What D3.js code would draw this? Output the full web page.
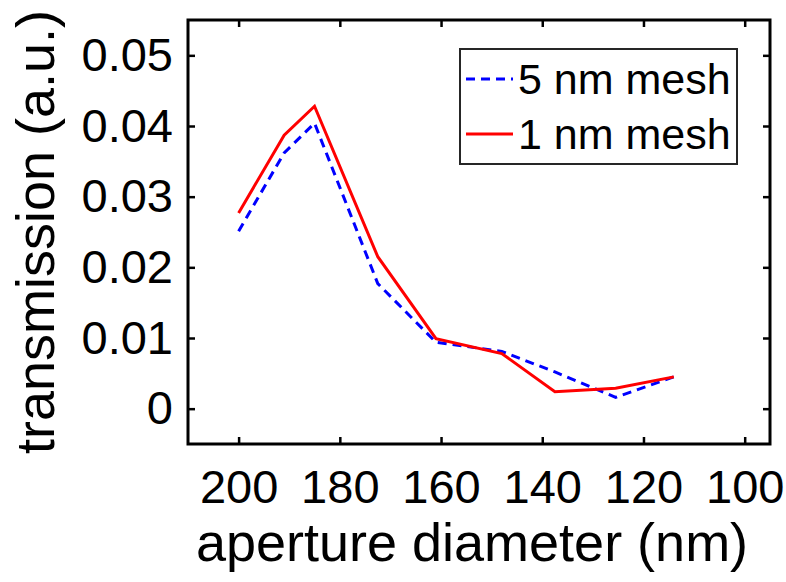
<!DOCTYPE html>
<html>
<head>
<meta charset="utf-8">
<script src="https://cdn.jsdelivr.net/npm/d3@7"></script>
<style>
  body { margin: 0; background: #fff; }
  text { font-family: "Liberation Sans", Arial, sans-serif; fill: #000; }
</style>
</head>
<body>
<script>
// values
var diameters = [200, 191, 185, 172.5, 161, 148, 137.5, 125.5, 114];
var mesh5 = [0.0251, 0.0362, 0.0404, 0.0177, 0.0094, 0.0081, 0.0052, 0.0016, 0.0045];
var mesh1 = [0.0277, 0.0387, 0.0428, 0.0215, 0.0099, 0.0078, 0.0024, 0.0029, 0.0045];
var xTicks = [200, 180, 160, 140, 120, 100];
var yTicks = [0, 0.01, 0.02, 0.03, 0.04, 0.05];
var seriesNames = ["5 nm mesh", "1 nm mesh"];

var width = 786, height = 582;
var margin = {top: 20, right: 16, bottom: 138, left: 188};
var w = width - margin.left - margin.right,
    h = height - margin.top - margin.bottom;

var svg = d3.select("body").append("svg")
    .attr("width", width)
    .attr("height", height);

var g = svg.append("g")
    .attr("transform", "translate(" + margin.left + "," + margin.top + ")");

var x = d3.scaleLinear().domain([210, 95]).range([0, w]);
var y = d3.scaleLinear().domain([-0.005, 0.055]).range([h, 0]);

var tickLen = 7;
var tickFmt = function(d) { return d === 0 ? "0" : d3.format(".2f")(d); };

// bottom and left axes with labels, ticks pointing inward
var xAxis = g.append("g")
    .attr("transform", "translate(0," + h + ")")
    .call(d3.axisBottom(x).tickValues(xTicks).tickSizeInner(-tickLen).tickSizeOuter(0).tickPadding(26));
var yAxis = g.append("g")
    .call(d3.axisLeft(y).tickValues(yTicks).tickFormat(tickFmt).tickSizeInner(-tickLen).tickSizeOuter(0).tickPadding(15));
// top and right ticks only
var xTop = g.append("g")
    .call(d3.axisTop(x).tickValues(xTicks).tickSizeInner(-tickLen).tickSizeOuter(0).tickFormat(""));
var yRight = g.append("g")
    .attr("transform", "translate(" + w + ",0)")
    .call(d3.axisRight(y).tickValues(yTicks).tickSizeInner(-tickLen).tickSizeOuter(0).tickFormat(""));

[xAxis, yAxis, xTop, yRight].forEach(function(a) {
  a.select(".domain").remove();
  a.selectAll(".tick line").attr("stroke", "#000").attr("stroke-width", 2.5);
  a.selectAll("text").style("font-size", "47px").attr("fill", "#000");
});

// axes box
g.append("rect")
    .attr("x", 0).attr("y", 0)
    .attr("width", w).attr("height", h)
    .attr("fill", "none")
    .attr("stroke", "#000")
    .attr("stroke-width", 3);

var line = d3.line()
    .x(function(d, i) { return x(diameters[i]); })
    .y(function(d) { return y(d); });

g.append("path")
    .datum(mesh5)
    .attr("d", line)
    .attr("fill", "none")
    .attr("stroke", "#0000ff")
    .attr("stroke-width", 3)
    .attr("stroke-dasharray", "9,6");

g.append("path")
    .datum(mesh1)
    .attr("d", line)
    .attr("fill", "none")
    .attr("stroke", "#ff0000")
    .attr("stroke-width", 3);

// axis labels
svg.append("text")
    .attr("x", 472)
    .attr("y", 561)
    .attr("text-anchor", "middle")
    .style("font-size", "54px")
    .text("aperture diameter (nm)");

svg.append("text")
    .attr("transform", "translate(54," + (margin.top + h / 2) + ") rotate(-90)")
    .attr("text-anchor", "middle")
    .style("font-size", "54px")
    .text("transmission (a.u.)");

// legend
var legend = svg.append("g").attr("transform", "translate(460,49)");
legend.append("rect")
    .attr("width", 277).attr("height", 115)
    .attr("fill", "#fff")
    .attr("stroke", "#262626")
    .attr("stroke-width", 2);

var styles = [{color: "#0000ff", dash: "9,6"}, {color: "#ff0000", dash: null}];
seriesNames.forEach(function(name, i) {
  var ly = 30 + i * 55;
  legend.append("line")
      .attr("x1", 6).attr("x2", 53)
      .attr("y1", ly).attr("y2", ly)
      .attr("stroke", styles[i].color)
      .attr("stroke-width", 3)
      .attr("stroke-dasharray", styles[i].dash);
  legend.append("text")
      .attr("x", 58)
      .attr("y", ly + 15)
      .style("font-size", "43px")
      .text(name);
});
</script>
</body>
</html>
